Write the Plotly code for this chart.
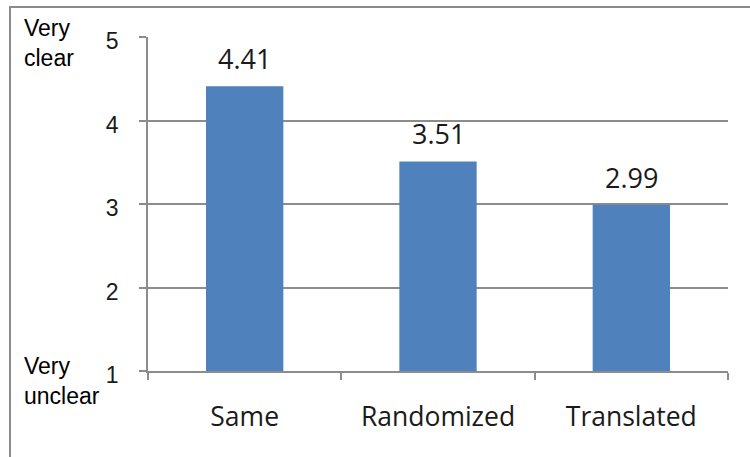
import plotly.graph_objects as go

# Clarity ratings per condition
conditions = ["Same", "Randomized", "Translated"]
mean_scores = [4.41, 3.51, 2.99]
y_ticks = [1, 2, 3, 4, 5]
scale_top_label = "Very<br>clear"
scale_bottom_label = "Very<br>unclear"

BAR_BLUE = "#4f81bd"
GRID_GREY = "#8c8c8c"
SANS = "Open Sans"
ARIAL = "Liberation Sans, Arial"

W, H = 750, 457
L, R, T, B = 148, 22, 37, 86
PW, PH = W - L - R, H - T - B


def px_to_paper_x(px):
    return (px - L) / PW


def px_to_paper_y(py):
    return (H - B - py) / PH


fig = go.Figure()
fig.add_trace(go.Bar(
    x=conditions,
    y=mean_scores,
    marker=dict(color=BAR_BLUE, line=dict(width=0)),
    hoverinfo="skip",
))

annotations = [
    dict(x=c, y=v, xref="x", yref="y", text=f"{v:.2f}", showarrow=False,
         yanchor="bottom", xanchor="center", yshift=7,
         font=dict(family=SANS, size=27, color="#1a1a1a"))
    for c, v in zip(conditions, mean_scores)
]
annotations += [
    dict(x=px_to_paper_x(22), y=px_to_paper_y(13), xref="paper", yref="paper",
         text=scale_top_label, showarrow=False, xanchor="left", yanchor="top",
         align="left", font=dict(family=ARIAL, size=23, color="#000000")),
    dict(x=px_to_paper_x(22), y=px_to_paper_y(351), xref="paper", yref="paper",
         text=scale_bottom_label, showarrow=False, xanchor="left", yanchor="top",
         align="left", font=dict(family=ARIAL, size=23, color="#000000")),
]

fig.update_layout(
    width=W, height=H,
    margin=dict(l=L, r=R, t=T, b=B),
    paper_bgcolor="white", plot_bgcolor="white",
    showlegend=False,
    bargap=0.6,
    annotations=annotations,
    shapes=[dict(type="rect", xref="paper", yref="paper",
                 x0=px_to_paper_x(10), x1=px_to_paper_x(765),
                 y0=px_to_paper_y(470), y1=px_to_paper_y(7),
                 line=dict(color="#8a8a8a", width=2), layer="below")],
    xaxis=dict(
        type="category", range=[-0.5, 2.5],
        showline=True, linecolor=GRID_GREY, linewidth=1.5,
        ticks="outside", tickson="boundaries", ticklen=7, tickwidth=1.5,
        tickcolor=GRID_GREY, showgrid=False,
        tickfont=dict(family=SANS, size=26.5, color="#1a1a1a"),
        ticklabelstandoff=21,
    ),
    yaxis=dict(
        range=[1, 5], tickvals=y_ticks,
        showline=True, linecolor=GRID_GREY, linewidth=1.5,
        ticks="outside", ticklen=7, tickwidth=1.5, tickcolor=GRID_GREY,
        showgrid=True, gridcolor=GRID_GREY, gridwidth=1.5,
        zeroline=False,
        tickfont=dict(family=ARIAL, size=23, color="#1a1a1a"),
        ticklabelstandoff=16, ticklabelshift=4,
    ),
)

fig.write_html("out.html")
